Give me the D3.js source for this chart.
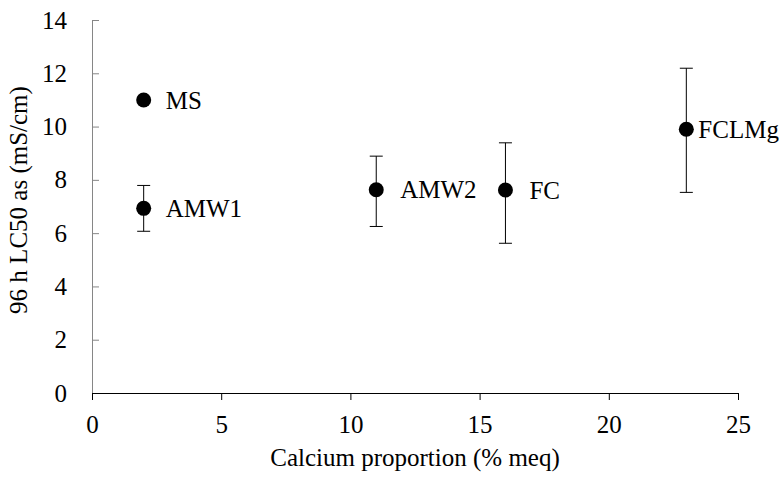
<!DOCTYPE html>
<html>
<head>
<meta charset="utf-8">
<script src="https://cdn.jsdelivr.net/npm/d3@7"></script>
<style>
  body { margin: 0; background: #fff; }
  svg text { font-family: "Liberation Serif", Tinos, "Times New Roman", Times, "DejaVu Serif", serif; }
</style>
</head>
<body>
<svg id="chart" width="783" height="481"></svg>
<script>
// data
const names = ["MS", "AMW1", "AMW2", "FC", "FCLMg"];
const calcium = [2, 2, 11, 16, 23];
const lc50 = [11.0, 6.93, 7.63, 7.62, 9.9];
const errLow = [null, 6.07, 6.25, 5.62, 7.53];
const errHigh = [null, 7.79, 8.89, 9.39, 12.19];
const xTicks = [0, 5, 10, 15, 20, 25];
const yTicks = [0, 2, 4, 6, 8, 10, 12, 14];

// label offset from the dot (px), Excel placed FCLMg tighter
const labelDx = [22, 22, 24, 24, 12];

const width = 783;
const height = 481;
const margin = { top: 20, right: 45, bottom: 88, left: 92 };
const fontSize = "25px";

const svg = d3.select("#chart");

const x = d3.scaleLinear()
  .domain([0, 25])
  .range([margin.left, width - margin.right]);

const y = d3.scaleLinear()
  .domain([0, 14])
  .range([height - margin.bottom, margin.top]);

const points = names.map((n, i) => ({
  name: n, x: calcium[i], y: lc50[i], lo: errLow[i], hi: errHigh[i], dx: labelDx[i]
}));

// y axis (grey, ticks inside)
const yAxis = svg.append("g")
  .attr("transform", `translate(${margin.left},0)`)
  .call(d3.axisLeft(y).tickValues(yTicks).tickSizeInner(-7).tickSizeOuter(0).tickPadding(25));
yAxis.attr("font-family", null);
yAxis.select(".domain").attr("stroke", "#868686");
yAxis.selectAll(".tick line").attr("stroke", "#868686");
yAxis.selectAll("text").attr("font-size", fontSize).attr("fill", "#000");

// x axis (black, ticks outside)
const xAxis = svg.append("g")
  .attr("transform", `translate(0,${y(0)})`)
  .call(d3.axisBottom(x).tickValues(xTicks).tickSizeInner(7).tickSizeOuter(0).tickPadding(15));
xAxis.attr("font-family", null);
xAxis.select(".domain").attr("stroke", "#000");
xAxis.selectAll(".tick line").attr("stroke", "#000");
xAxis.selectAll("text").attr("font-size", fontSize).attr("fill", "#000");

// error bars
const bars = points.filter((d) => d.lo != null);
const eb = svg.append("g").attr("stroke", "#000").attr("stroke-width", 1);
eb.selectAll(".err-v").data(bars).enter().append("line")
  .attr("x1", (d) => x(d.x)).attr("x2", (d) => x(d.x))
  .attr("y1", (d) => y(d.lo)).attr("y2", (d) => y(d.hi));
eb.selectAll(".cap-hi").data(bars).enter().append("line")
  .attr("x1", (d) => x(d.x) - 6.5).attr("x2", (d) => x(d.x) + 6.5)
  .attr("y1", (d) => y(d.hi)).attr("y2", (d) => y(d.hi));
eb.selectAll(".cap-lo").data(bars).enter().append("line")
  .attr("x1", (d) => x(d.x) - 6.5).attr("x2", (d) => x(d.x) + 6.5)
  .attr("y1", (d) => y(d.lo)).attr("y2", (d) => y(d.lo));

// dots
svg.append("g").selectAll("circle").data(points).enter().append("circle")
  .attr("cx", (d) => x(d.x))
  .attr("cy", (d) => y(d.y))
  .attr("r", 7.5)
  .attr("fill", "#000");

// point labels
svg.append("g").selectAll("text").data(points).enter().append("text")
  .attr("x", (d) => x(d.x) + d.dx)
  .attr("y", (d) => y(d.y))
  .attr("dy", "0.35em")
  .attr("font-size", fontSize)
  .attr("fill", "#000")
  .text((d) => d.name);

// axis titles
svg.append("text")
  .attr("x", (margin.left + width - margin.right) / 2)
  .attr("y", 466)
  .attr("text-anchor", "middle")
  .attr("font-size", fontSize)
  .text("Calcium proportion (% meq)");

svg.append("text")
  .attr("transform", "translate(27,200) rotate(-90)")
  .attr("text-anchor", "middle")
  .attr("font-size", fontSize)
  .text("96 h LC50 as (mS/cm)");
</script>
</body>
</html>
